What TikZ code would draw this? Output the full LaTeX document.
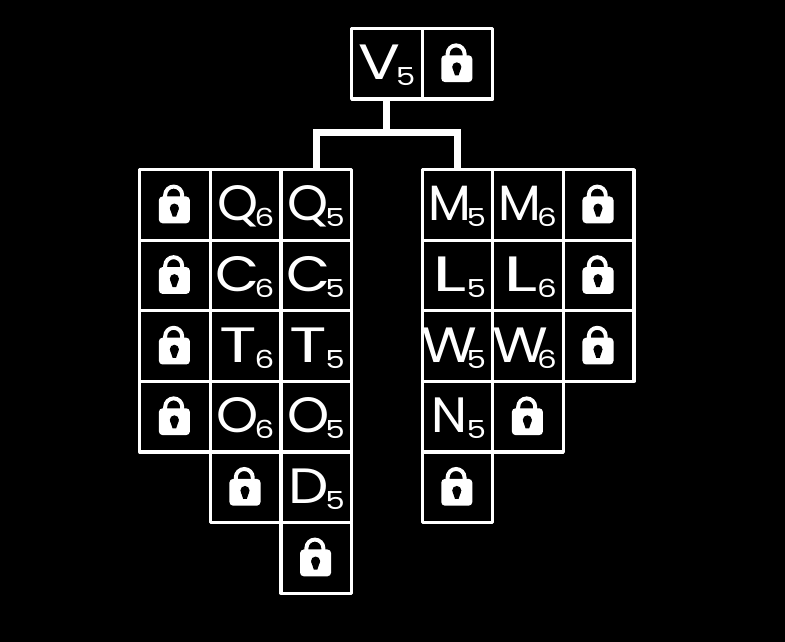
\documentclass[tikz,border=0pt]{standalone}
\usepackage{fontspec}
\setmainfont{Poppins}
\usepackage{graphicx}
\usepackage{xcolor}
\usetikzlibrary{positioning}
\tikzset{cell/.style={rectangle,draw=white,line width=1.3pt,line join=round,minimum width=1cm,minimum height=1cm,inner sep=0pt,text=white,text height=0.727cm,text depth=0.273cm,font=\fontsize{20}{20}\selectfont},
link/.style={draw=white,line width=2.8pt},
lock/.pic={
    \fill[white,rounded corners=1.5pt] (-0.23,-0.26) rectangle (0.21,0.12);
    \draw[white,line width=1.6pt] (-0.14,0.08) -- (-0.14,0.14) arc (180:0:0.12) -- (0.10,0.08);
    \fill[black] (-0.01,-0.045) circle (0.065);
    \fill[black] (-0.07,-0.06) -- (0.05,-0.06) -- (0.015,-0.165) -- (-0.035,-0.165) -- cycle;
}}
% stretch of the letter, letter, digit
\newcommand{\lbl}[3]{\makebox[1cm][l]{\makebox[0.779cm][c]{\scalebox{#1}[1]{#2}}\hspace{-0.14cm}\raisebox{-0.085cm}{\makebox[0.255cm][c]{\fontsize{10}{10}\selectfont\scalebox{1.25}[1]{#3}}}}}

\begin{document}
\begin{tikzpicture}[>=stealth]
        \fill[black] (0,0) rectangle (11.119,9.093);
        \useasboundingbox (0,0) rectangle (11.119,9.093);

        \node[cell] (v)at (5.48,8.19) {\lbl{1.25}{V}{5}};
        \node[cell] (vl)at (6.48,8.19) {};

        \node[cell] (ql)at (2.48,6.19) {};
        \node[cell] (q6)at (3.48,6.19) {\lbl{1.05}{Q}{6}};
        \node[cell] (q5)at (4.48,6.19) {\lbl{1.05}{Q}{5}};
        \node[cell] (cl)at (2.48,5.19) {};
        \node[cell] (c6)at (3.48,5.19) {\lbl{1.15}{C}{6}};
        \node[cell] (c5)at (4.48,5.19) {\lbl{1.15}{C}{5}};
        \node[cell] (tl)at (2.48,4.19) {};
        \node[cell] (t6)at (3.48,4.19) {\lbl{1.4}{T}{6}};
        \node[cell] (t5)at (4.48,4.19) {\lbl{1.4}{T}{5}};
        \node[cell] (ol)at (2.48,3.19) {};
        \node[cell] (o6)at (3.48,3.19) {\lbl{1.08}{O}{6}};
        \node[cell] (o5)at (4.48,3.19) {\lbl{1.08}{O}{5}};
        \node[cell] (dl)at (3.48,2.19) {};
        \node[cell] (d5)at (4.48,2.19) {\lbl{1.15}{D}{5}};
        \node[cell] (el)at (4.48,1.19) {};

        \node[cell] (m5)at (6.48,6.19) {\lbl{1}{M}{5}};
        \node[cell] (m6)at (7.48,6.19) {\lbl{1}{M}{6}};
        \node[cell] (ml)at (8.48,6.19) {};
        \node[cell] (l5)at (6.48,5.19) {\lbl{1.6}{L}{5}};
        \node[cell] (l6)at (7.48,5.19) {\lbl{1.6}{L}{6}};
        \node[cell] (ll)at (8.48,5.19) {};
        \node[cell] (w5)at (6.48,4.19) {\lbl{1.15}{W}{5}};
        \node[cell] (w6)at (7.48,4.19) {\lbl{1.15}{W}{6}};
        \node[cell] (wl)at (8.48,4.19) {};
        \node[cell] (n5)at (6.48,3.19) {\lbl{1.03}{N}{5}};
        \node[cell] (nl)at (7.48,3.19) {};
        \node[cell] (fl)at (6.48,2.19) {};

        \foreach \n in {vl,ql,cl,tl,ol,dl,el,ml,ll,wl,nl,fl}
            \pic at (\n) {lock};

        \coordinate (bar) at (5.48,7.22);
        \draw [link] (v.south) -- (bar);
        \draw [link] (q5.north) |- (bar) -| (m5.north);
    \end{tikzpicture}
\end{document}
